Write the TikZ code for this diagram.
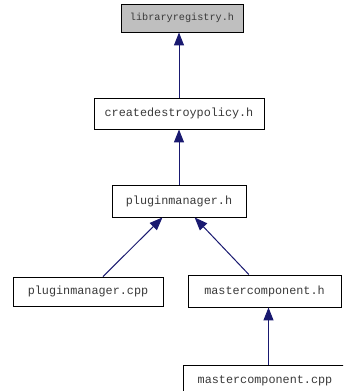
\documentclass[tikz,border=0pt]{standalone}
\usepackage{fontspec}
\setmonofont{Liberation Mono}
\usetikzlibrary{arrows.meta}
\definecolor{cedge}{HTML}{191970}
\definecolor{cgray}{HTML}{BFBFBF}
\definecolor{ctext}{HTML}{3A3A3A}

\begin{document}
\begin{tikzpicture}[x=1pt, y=-1pt,
  file/.style={draw=black, fill=white, line width=0.9pt, inner sep=0pt,
    font=\ttfamily\fontsize{11.8}{13}\selectfont, text=ctext},
  edge/.style={cedge, line width=1pt, -{Triangle[length=13pt, width=10pt]}}]
\clip (0,0) rectangle (343,391);
%% ------------------------------------------------------------------ files
\node[file, fill=cgray, minimum width=122pt, minimum height=28pt,
  font=\ttfamily\fontsize{10.2}{12}\selectfont] (lib) at (182,18) {libraryregistry.h};
\node[file, minimum width=170pt, minimum height=31pt] (cdp) at (179,113.5) {createdestroypolicy.h};
\node[file, minimum width=134pt, minimum height=32pt] (pmh) at (179,201) {pluginmanager.h};
\node[file, minimum width=150pt, minimum height=29pt] (pmcpp) at (88,291.5) {pluginmanager.cpp};
\node[file, minimum width=153pt, minimum height=32pt] (mch) at (264.5,291) {mastercomponent.h};
\node[file, minimum width=164pt, minimum height=31pt] (mccpp) at (265,380.5) {mastercomponent.cpp};
%% ------------------------------------------------------------------ includes
\draw[edge] (cdp.north) -- (cdp.north |- lib.south);
\draw[edge] (pmh.north) -- (cdp.south);
\draw[edge] (pmcpp) -- (pmh);
\draw[edge] (mch) -- (pmh);
\coordinate (mcin) at ([xshift=3.5pt]mccpp.north);
\draw[edge] (mcin) -- (mcin |- mch.south);
\end{tikzpicture}
\end{document}
